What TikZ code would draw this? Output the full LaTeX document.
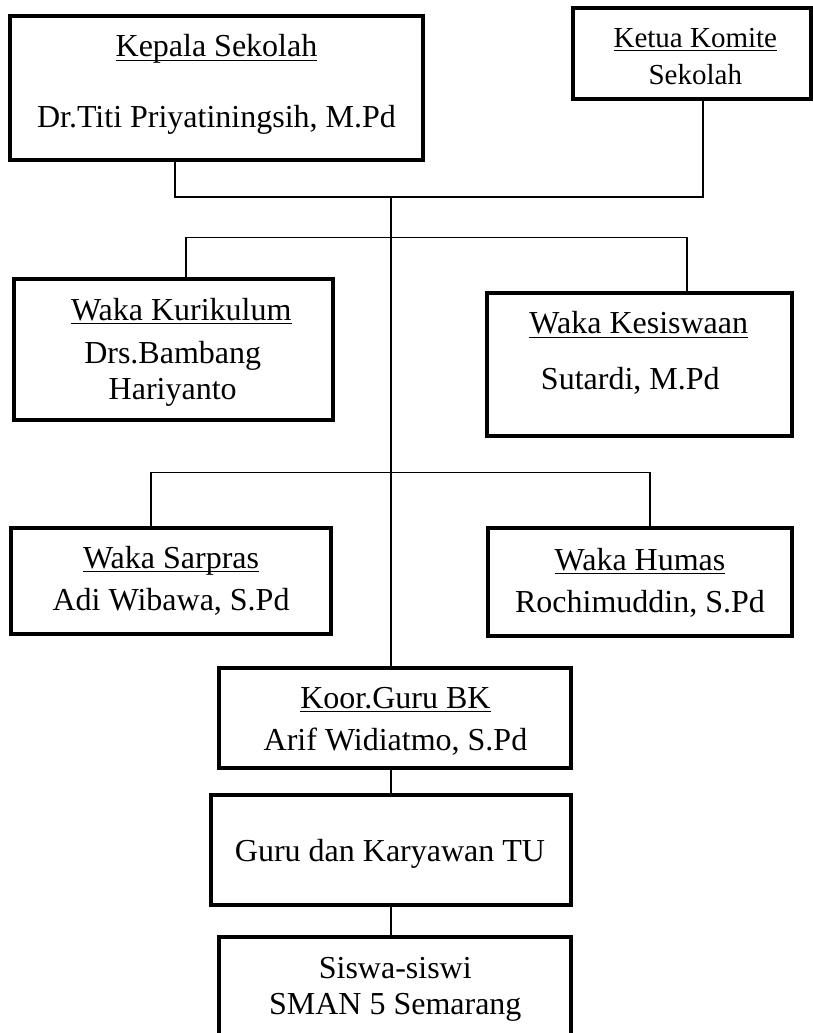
\documentclass[tikz,border=0pt]{standalone}
\usepackage{fontspec}
\setmainfont{Liberation Serif}
\newsavebox\ulbox
\newcommand\ulx[1]{\sbox\ulbox{#1}\rlap{\rule[-0.13em]{\wd\ulbox}{0.042em}}\usebox\ulbox}
\begin{document}
\begin{tikzpicture}[x=1pt,y=-1pt,
  box/.style={draw,line width=4pt,inner sep=0pt,rectangle},
  txt/.style={inner sep=0pt,align=center,font=\fontsize{32}{38}\selectfont},
  txts/.style={inner sep=0pt,align=center,font=\fontsize{29}{34}\selectfont},
  conn/.style={line width=1.3pt}]
\fill[white] (0,0) rectangle (813,1033);
\useasboundingbox (0,0) rectangle (813,1033);
% boxes
\node[box,minimum width=412.4pt,minimum height=143.7pt] (kepala) at (216.5,88.15) {};
\node[box,minimum width=238.2pt,minimum height=90.9pt] (ketua) at (691.9,53.25) {};
\node[box,minimum width=319.3pt,minimum height=141.6pt] (kurik) at (173.35,349.5) {};
\node[box,minimum width=304.7pt,minimum height=142.7pt] (kesis) at (639.35,364.15) {};
\node[box,minimum width=320.8pt,minimum height=106pt] (sarpras) at (170.9,580.8) {};
\node[box,minimum width=304pt,minimum height=107.5pt] (humas) at (640,581.75) {};
\node[box,minimum width=352pt,minimum height=100pt] (koor) at (395.3,718) {};
\node[box,minimum width=360.3pt,minimum height=110pt] (guru) at (391.15,849.7) {};
\node[box,minimum width=352pt,minimum height=133pt] (siswa) at (395.3,1003.5) {};
% texts
\node[txt] (kepalaT) at (216.5,84.4) {\strut\ulx{Kepala Sekolah}\\[32.6pt]\strut Dr.Titi Priyatiningsih, M.Pd};
\node[txts] (ketuaT) at (695.3,59.35) {\strut\ulx{Ketua Komite}\\[3.7pt]\strut Sekolah};
\node[txt] (kurikT) at (172.7,351.9) {\hspace*{17.2pt}\strut\ulx{Waka Kurikulum}\\[5.3pt]\strut Drs.Bambang\\[-2.3pt]\strut Hariyanto};
\node[txt] (kesisT) at (630.3,354) {\hspace*{17pt}\strut\ulx{Waka Kesiswaan}\\[17.3pt]\strut Sutardi, M.Pd};
\node[txt] (sarprasT) at (171.1,581.9) {\strut\ulx{Waka Sarpras}\\[4.4pt]\strut Adi Wibawa, S.Pd};
\node[txt] (humasT) at (640,583.75) {\strut\ulx{Waka Humas}\\[4.7pt]\strut Rochimuddin, S.Pd};
\node[txt] (koorT) at (395.5,721.55) {\strut\ulx{Koor.Guru BK}\\[3.7pt]\strut Arif Widiatmo, S.Pd};
\node[txt] (guruT) at (390,853.4) {\strut Guru dan Karyawan TU};
\node[txt] (siswaT) at (395.3,989) {\strut Siswa-siswi\\[-1.3pt]\strut SMAN 5 Semarang};
% connectors
\coordinate (j1a) at (175,197);
\coordinate (j1b) at (703,197);
\coordinate (j1m) at (391,197);
\coordinate (j2a) at (186,237.5);
\coordinate (j2b) at (687,237.5);
\coordinate (j3a) at (151,472.5);
\coordinate (j3b) at (650,472.5);
\draw[conn] (kepala.south -| j1a) -- (j1a) -- (j1b) -- (ketua.south -| j1b);
\draw[conn] (j1m) -- (koor.north -| j1m);
\draw[conn] (kurik.north -| j2a) -- (j2a) -- (j2b) -- (kesis.north -| j2b);
\draw[conn] (sarpras.north -| j3a) -- (j3a) -- (j3b) -- (humas.north -| j3b);
\draw[conn] (koor.south -| j1m) -- (guru.north -| j1m);
\draw[conn] (guru.south -| j1m) -- (siswa.north -| j1m);
\end{tikzpicture}
\end{document}
